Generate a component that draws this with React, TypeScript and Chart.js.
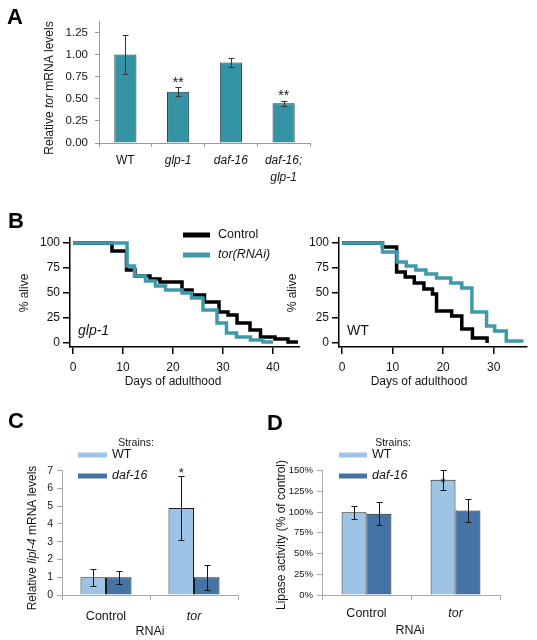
import React, { useEffect, useRef } from 'react';
import { Chart, registerables } from 'chart.js';

Chart.register(...registerables);

const FF = '"Liberation Sans", Arial, Helvetica, sans-serif';

// ---------- Panel A data ----------
const aCategories: (string | string[])[] = ['WT', 'glp-1', 'daf-16', ['daf-16;', 'glp-1']];
const aValues = [1.0, 0.58, 0.91, 0.45];
const aErrors = [0.22, 0.05, 0.05, 0.03];
const aSignif = ['', '**', '', '**'];
const aYTicks = [0, 0.25, 0.5, 0.75, 1.0, 1.25];

// ---------- Panel B data (survival, % alive) ----------
const glp1ControlDays = [0, 7.8, 10.7, 12.4, 15.4, 17.4, 21.8, 23.8, 26.3, 29.2, 31, 32.8, 35.4, 37.5, 40.4, 43, 45];
const glp1ControlAlive = [100, 92, 73, 67, 64, 61, 53, 48, 41, 31, 28, 20, 13, 6, 4, 1, 1];
const glp1TorDays = [0, 10.8, 12.3, 14.5, 16.5, 18.5, 21.8, 23.7, 26, 28.8, 30.7, 32.7, 35.5, 38, 40];
const glp1TorAlive = [100, 77, 67, 62, 57, 53, 50, 45, 33, 20, 10, 6, 3, 1, 1];
const wtControlDays = [0, 8, 10.8, 12.5, 14.3, 16.2, 17.9, 18.7, 21.7, 23.7, 25.8, 28.7];
const wtControlAlive = [100, 96, 71, 66, 60, 54, 49, 32, 27, 14, 5, 0];
const wtTorDays = [0, 8, 10.9, 12.7, 14.6, 16.6, 18.7, 21.5, 23.7, 25.7, 28.6, 30.2, 32.5, 35.9];
const wtTorAlive = [100, 91, 81, 77, 73, 69, 65, 60, 55, 31, 17, 12, 2, 2];
const bXTicks = [0, 10, 20, 30, 40];
const bYTicks = [0, 25, 50, 75, 100];

// ---------- Panel C data ----------
const rnaiCategories = ['Control', 'tor'];
const cWT = [1.0, 4.9];
const cWTErr = [0.47, 1.8];
const cDaf16 = [1.0, 1.0];
const cDaf16Err = [0.36, 0.7];
const cWTSignif = ['', '*'];
const cYTicks = [0, 1, 2, 3, 4, 5, 6, 7];

// ---------- Panel D data ----------
const dWT = [100, 139];
const dWTErr = [8, 12];
const dDaf16 = [98, 102];
const dDaf16Err = [14, 14];
const dWTSignif = ['', '*'];
const dYTicks = [0, 25, 50, 75, 100, 125, 150];

// ---------- colours ----------
const TEAL_BAR = '#3593a6';
const TEAL_LINE = '#3e99ab';
const LIGHT_BLUE = '#9dc3e6';
const DARK_BLUE = '#4673a6';
const TXT = '#151515';

type Seg = [string, boolean?];

function rich(ctx: CanvasRenderingContext2D, segs: Seg[], x: number, y: number, size: number, rotate = false, align: 'center' | 'left' = 'center', weight = 'normal') {
  ctx.save();
  ctx.fillStyle = TXT;
  ctx.textBaseline = 'middle';
  ctx.textAlign = 'left';
  const fonts = segs.map((s) => `${s[1] ? 'italic ' : ''}${weight} ${size}px ${FF}`);
  const widths = segs.map((s, k) => {
    ctx.font = fonts[k];
    return ctx.measureText(s[0]).width;
  });
  const total = widths.reduce((a, b) => a + b, 0);
  ctx.translate(x, y);
  if (rotate) ctx.rotate(-Math.PI / 2);
  let cx = align === 'center' ? -total / 2 : 0;
  segs.forEach((s, k) => {
    ctx.font = fonts[k];
    ctx.fillText(s[0], cx, 0);
    cx += widths[k];
  });
  ctx.restore();
}

function letter(ctx: CanvasRenderingContext2D, s: string, x: number, baseline: number) {
  ctx.save();
  ctx.fillStyle = '#000';
  ctx.font = `bold 22px ${FF}`;
  ctx.textAlign = 'left';
  ctx.textBaseline = 'alphabetic';
  ctx.fillText(s, x, baseline);
  ctx.restore();
}

function legendLine(ctx: CanvasRenderingContext2D, x1: number, x2: number, y: number, color: string, w: number) {
  ctx.save();
  ctx.strokeStyle = color;
  ctx.lineWidth = w;
  ctx.lineCap = 'butt';
  ctx.beginPath();
  ctx.moveTo(x1, y);
  ctx.lineTo(x2, y);
  ctx.stroke();
  ctx.restore();
}

const errorBarPlugin = {
  id: 'errorBars',
  afterDatasetsDraw(chart: any) {
    const ctx: CanvasRenderingContext2D = chart.ctx;
    const yScale = chart.scales.y;
    chart.data.datasets.forEach((ds: any, di: number) => {
      if (!ds.errors) return;
      const meta = chart.getDatasetMeta(di);
      meta.data.forEach((bar: any, i: number) => {
        const v = ds.data[i];
        const e = ds.errors[i];
        const x = Math.round(bar.x) + 0.5;
        const yt = Math.round(yScale.getPixelForValue(v + e)) + 0.5;
        const yb = Math.round(yScale.getPixelForValue(v - e)) + 0.5;
        const c = ds.capHalf;
        ctx.save();
        ctx.strokeStyle = ds.errorColor;
        ctx.lineWidth = 1;
        ctx.beginPath();
        ctx.moveTo(x, yt);
        ctx.lineTo(x, yb);
        ctx.moveTo(x - c, yt);
        ctx.lineTo(x + c, yt);
        ctx.moveTo(x - c, yb);
        ctx.lineTo(x + c, yb);
        ctx.stroke();
        const s = ds.signif ? ds.signif[i] : '';
        if (s) {
          ctx.fillStyle = TXT;
          ctx.font = `${ds.sigSize}px ${FF}`;
          ctx.textAlign = 'center';
          ctx.textBaseline = 'alphabetic';
          const anchor = ds.sigAnchor === 'value' ? yScale.getPixelForValue(v) : yScale.getPixelForValue(v + e);
          ctx.fillText(s, bar.x, anchor + ds.sigDy);
        }
        ctx.restore();
      });
    });
  },
};

function extras(id: string, draw: (ctx: CanvasRenderingContext2D, chart: any) => void) {
  return {
    id,
    afterDraw(chart: any) {
      draw(chart.ctx, chart);
    },
  };
}

const setTicks = (vals: number[]) => (s: any) => {
  s.ticks = vals.filter((v) => v >= s.min && v <= s.max).map((v) => ({ value: v }));
};

function makeA(): any {
  return {
    type: 'bar',
    data: {
      labels: aCategories,
      datasets: [
        {
          data: aValues,
          errors: aErrors,
          signif: aSignif,
          sigSize: 14,
          sigAnchor: 'err',
          sigDy: -0.5,
          errorColor: '#333',
          capHalf: 3,
          backgroundColor: TEAL_BAR,
          borderColor: '#1d3a42',
          borderWidth: 1,
          barPercentage: 0.42,
          categoryPercentage: 1,
        },
      ],
    },
    options: {
      animation: false,
      responsive: false,
      events: [],
      layout: { padding: { top: 21, right: 20, left: 0, bottom: 0 } },
      plugins: { legend: { display: false }, tooltip: { enabled: false } },
      scales: {
        x: {
          grid: { drawOnChartArea: false, drawTicks: true, tickLength: 4, color: '#9a9a9a', offset: true },
          border: { color: '#9a9a9a' },
          ticks: {
            autoSkip: false,
            maxRotation: 0,
            padding: 6,
            color: TXT,
            font: (c: any) => ({ family: FF, size: 12, lineHeight: 1.35, style: c.index === 0 ? 'normal' : 'italic' }),
          },
          afterFit: (s: any) => {
            s.height = 52;
          },
        },
        y: {
          min: 0,
          max: 1.38,
          grid: { drawOnChartArea: false, tickLength: 4, color: '#9a9a9a' },
          border: { color: '#9a9a9a' },
          afterBuildTicks: setTicks(aYTicks),
          ticks: { callback: (v: any) => Number(v).toFixed(2), padding: 7, color: TXT, font: { family: FF, size: 11.5 } },
          afterFit: (s: any) => {
            s.width = 99;
          },
        },
      },
    },
    plugins: [
      errorBarPlugin,
      extras('aText', (ctx) => {
        letter(ctx, 'A', 7, 24);
        rich(ctx, [['Relative '], ['tor', true], [' mRNA levels']], 50, 88, 12, true);
      }),
    ],
  };
}

function zip(days: number[], alive: number[]) {
  return days.map((d, i) => ({ x: d, y: alive[i] }));
}

function survivalOptions(xMax: number, yWidth: number, padRight: number) {
  const axisGrid = { drawOnChartArea: false, drawTicks: true, tickLength: 7, color: '#000', lineWidth: 1.5 };
  return {
    animation: false,
    responsive: false,
    events: [],
    layout: { padding: { top: 38, right: padRight, left: 0, bottom: 0 } },
    plugins: { legend: { display: false }, tooltip: { enabled: false } },
    scales: {
      x: {
        type: 'linear',
        min: -0.6,
        max: xMax,
        grid: axisGrid,
        border: { color: '#000', width: 1.5 },
        afterBuildTicks: setTicks(bXTicks),
        ticks: { padding: 6, color: TXT, maxRotation: 0, font: { family: FF, size: 12 } },
        afterFit: (s: any) => {
          s.height = 48;
        },
      },
      y: {
        min: -4,
        max: 105,
        grid: axisGrid,
        border: { color: '#000', width: 1.5 },
        afterBuildTicks: setTicks(bYTicks),
        ticks: { padding: 3, color: TXT, font: { family: FF, size: 12 } },
        afterFit: (s: any) => {
          s.width = yWidth;
        },
      },
    },
  };
}

function lineDs(data: any[], color: string) {
  return {
    data,
    borderColor: color,
    backgroundColor: color,
    borderWidth: 3.5,
    stepped: true,
    pointRadius: 0,
    fill: false,
    borderCapStyle: 'butt',
    borderJoinStyle: 'miter',
  };
}

function makeBLeft(): any {
  return {
    type: 'line',
    data: {
      datasets: [lineDs(zip(glp1TorDays, glp1TorAlive), TEAL_LINE), lineDs(zip(glp1ControlDays, glp1ControlAlive), '#000')],
    },
    options: survivalOptions(45.4, 70, 0),
    plugins: [
      extras('bLeftText', (ctx) => {
        letter(ctx, 'B', 8, 28);
        legendLine(ctx, 183, 210, 35, '#000', 5);
        legendLine(ctx, 183, 210, 55, TEAL_LINE, 5);
        rich(ctx, [['Control']], 218, 35, 12.5, false, 'left');
        rich(ctx, [['tor(RNAi)', true]], 218, 55, 12.5, false, 'left');
        rich(ctx, [['glp-1', true]], 78, 131, 14, false, 'left');
        rich(ctx, [['% alive']], 25, 93, 12, true);
        rich(ctx, [['Days of adulthood']], 173, 182, 12);
      }),
    ],
  };
}

function makeBRight(): any {
  return {
    type: 'line',
    data: {
      datasets: [lineDs(zip(wtTorDays, wtTorAlive), TEAL_LINE), lineDs(zip(wtControlDays, wtControlAlive), '#000')],
    },
    options: survivalOptions(36.6, 69, 10),
    plugins: [
      extras('bRightText', (ctx) => {
        rich(ctx, [['WT']], 77, 131.5, 14, false, 'left');
        rich(ctx, [['% alive']], 23, 93, 12, true);
        rich(ctx, [['Days of adulthood']], 149, 182, 12);
      }),
    ],
  };
}

function groupedOptions(opts: { max: number; yTicks: number[]; fmt: (v: any) => string; tickSize: number; padRight: number; xPad: number }) {
  const grey = '#a8a8a8';
  return {
    animation: false,
    responsive: false,
    events: [],
    layout: { padding: { top: 75.7, right: opts.padRight, left: 0, bottom: 0 } },
    plugins: { legend: { display: false }, tooltip: { enabled: false } },
    scales: {
      x: {
        grid: { drawOnChartArea: false, drawTicks: true, tickLength: 5, color: grey, offset: true },
        border: { color: grey },
        ticks: {
          autoSkip: false,
          maxRotation: 0,
          padding: opts.xPad,
          color: TXT,
          font: (c: any) => ({ family: FF, size: 12.5, style: c.index === 1 ? 'italic' : 'normal' }),
        },
        afterFit: (s: any) => {
          s.height = 45;
        },
      },
      y: {
        min: 0,
        max: opts.max,
        grid: { drawOnChartArea: false, tickLength: 5, color: grey },
        border: { color: grey },
        afterBuildTicks: setTicks(opts.yTicks),
        ticks: { callback: opts.fmt, padding: 4, color: TXT, font: { family: FF, size: opts.tickSize } },
        afterFit: (s: any) => {
          s.width = 62;
        },
      },
    },
  };
}

function barDs(data: number[], errors: number[], color: string, pct: number, signif?: string[], sigAnchor = 'err', sigDy = 1) {
  return {
    data,
    errors,
    signif,
    sigSize: 13,
    sigAnchor,
    sigDy,
    errorColor: '#111',
    capHalf: 3,
    backgroundColor: color,
    borderColor: '#1a1a1a',
    borderWidth: 1,
    barPercentage: 1,
    categoryPercentage: pct,
  };
}

function strainLegend(ctx: CanvasRenderingContext2D, cx: number, x1: number, x2: number) {
  rich(ctx, [['Strains:']], cx, 48, 10.5);
  legendLine(ctx, x1, x2, 60, LIGHT_BLUE, 5);
  legendLine(ctx, x1, x2, 81, DARK_BLUE, 5);
  rich(ctx, [['WT']], 112, 60, 12.5, false, 'left');
  rich(ctx, [['daf-16', true]], 112, 81, 12.5, false, 'left');
}

function makeC(): any {
  return {
    type: 'bar',
    data: {
      labels: rnaiCategories,
      datasets: [barDs(cWT, cWTErr, LIGHT_BLUE, 0.58, cWTSignif, 'err', 1), barDs(cDaf16, cDaf16Err, DARK_BLUE, 0.58)],
    },
    options: groupedOptions({ max: 7, yTicks: cYTicks, fmt: (v) => String(v), tickSize: 10.5, padRight: 27, xPad: 9.5 }),
    plugins: [
      errorBarPlugin,
      extras('cText', (ctx) => {
        letter(ctx, 'C', 8, 33);
        strainLegend(ctx, 136, 78, 107);
        rich(ctx, [['Relative '], ['lipl-4', true], [' mRNA levels']], 33, 143, 12, true);
        rich(ctx, [['RNAi']], 150, 237, 12.5);
      }),
    ],
  };
}

function makeD(): any {
  return {
    type: 'bar',
    data: {
      labels: rnaiCategories,
      datasets: [barDs(dWT, dWTErr, LIGHT_BLUE, 0.56, dWTSignif, 'value', 7.5), barDs(dDaf16, dDaf16Err, DARK_BLUE, 0.56)],
    },
    options: groupedOptions({ max: 150, yTicks: dYTicks, fmt: (v) => `${v}%`, tickSize: 9.5, padRight: 37, xPad: 6.5 }),
    plugins: [
      errorBarPlugin,
      extras('dText', (ctx) => {
        letter(ctx, 'D', 7, 35);
        strainLegend(ctx, 133, 79, 107);
        rich(ctx, [['Lipase activity (% of control)']], 22, 140, 12, true);
        rich(ctx, [['RNAi']], 150, 236, 12.5);
      }),
    ],
  };
}

function ChartBox(props: { left: number; top: number; width: number; height: number; make: () => any }) {
  const ref = useRef<HTMLCanvasElement>(null);
  useEffect(() => {
    const chart = new Chart(ref.current as HTMLCanvasElement, props.make());
    return () => chart.destroy();
  }, []);
  return (
    <canvas
      ref={ref}
      width={props.width}
      height={props.height}
      style={{ position: 'absolute', left: props.left, top: props.top, width: props.width, height: props.height }}
    />
  );
}

export default function App() {
  return (
    <div style={{ position: 'absolute', left: 0, top: 0, width: 537, height: 640, background: '#fff', overflow: 'hidden' }}>
      <ChartBox left={0} top={0} width={330} height={195} make={makeA} />
      <ChartBox left={0} top={200} width={300} height={195} make={makeBLeft} />
      <ChartBox left={270} top={200} width={267} height={195} make={makeBRight} />
      <ChartBox left={0} top={395} width={265} height={245} make={makeC} />
      <ChartBox left={260} top={395} width={277} height={245} make={makeD} />
    </div>
  );
}
